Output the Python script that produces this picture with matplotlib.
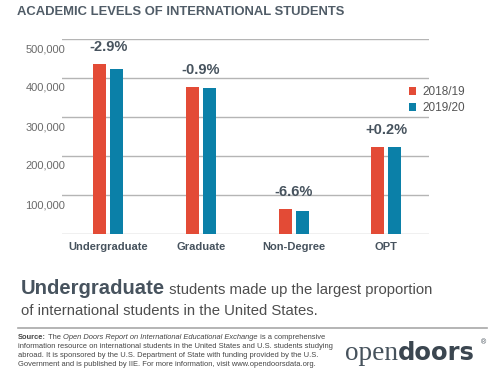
import numpy as np
import matplotlib.pyplot as plt
import matplotlib.transforms as mtransforms

plt.rcParams['font.family'] = ['Liberation Sans', 'DejaVu Sans']

# datos
categories = ['Undergraduate', 'Graduate', 'Non-Degree', 'OPT']
y2018 = [437000, 377000, 65000, 224000]
y2019 = [424000, 374000, 60000, 224000]
changes = ['-2.9%', '-0.9%', '-6.6%', '+0.2%']
years = ['2018/19', '2019/20']
yticks = [0, 100000, 200000, 300000, 400000, 500000]
ytick_labels = ['', '100,000', '200,000', '300,000', '400,000', '500,000']

red = '#e34b36'
blue = '#0b80a8'
dark = '#47535e'

W, H = 499, 382
fig = plt.figure(figsize=(W / 100, H / 100), dpi=100)
fig.patch.set_facecolor('white')

def fx(px):
    return px / W

def fy(py):
    return 1 - py / H

ax = fig.add_axes([fx(62), fy(234), fx(429) - fx(62), fy(39) - fy(234)])
x = np.arange(len(categories))
w = 0.14
off = 0.092
ax.bar(x - off, y2018, w, color=red, label=years[0], zorder=3)
ax.bar(x + off, y2019, w, color=blue, label=years[1], zorder=3)

ax.set_xlim(-0.5, 3.46)
ax.set_ylim(0, 500000)
for s in ax.spines.values():
    s.set_visible(False)
ax.set_yticks(yticks, labels=ytick_labels)
ax.grid(axis='y', color='#b5b5b5', linewidth=1, zorder=0)
ax.tick_params(axis='y', length=0, pad=-2.2, labelsize=8, labelcolor='#6a6a6a')
shift = mtransforms.ScaledTranslation(0, -0.09, fig.dpi_scale_trans)
for lbl in ax.get_yticklabels():
    lbl.set_transform(lbl.get_transform() + shift)
ax.set_xticks(x, labels=categories)
ax.tick_params(axis='x', length=0, pad=6, labelsize=8)
for lbl in ax.get_xticklabels():
    lbl.set_fontweight('bold')
    lbl.set_color(dark)

# etiquetas de cambio porcentual
for i in range(len(categories)):
    top = max(y2018[i], y2019[i])
    ax.annotate(changes[i], (x[i], top), xytext=(0, 7), textcoords='offset points',
                ha='center', va='bottom', fontsize=10.5, fontweight='bold', color=dark)

leg = ax.legend(loc='upper left', bbox_to_anchor=(fx(409), fy(86)),
                bbox_transform=fig.transFigure, frameon=False, fontsize=8.5,
                handlelength=0.6, handleheight=0.6, handletextpad=0.5,
                labelspacing=0.35, borderaxespad=0, borderpad=0)
for t in leg.get_texts():
    t.set_color('#555555')

# titulo
fig.text(fx(17), fy(12), 'ACADEMIC LEVELS OF INTERNATIONAL STUDENTS', fontsize=9.4,
         fontweight='bold', color='#505c67', va='center', ha='left')

fig.canvas.draw()
renderer = fig.canvas.get_renderer()

def runs(x0, y0, pieces):
    xc = x0
    for txt, kw in pieces:
        t = fig.text(xc, y0, txt, va='baseline', ha='left', **kw)
        bb = t.get_window_extent(renderer)
        xc = bb.x1 / W

# frase destacada
runs(fx(21), fy(294), [('Undergraduate', dict(fontsize=14.6, fontweight='bold', color=dark)),
                      (' students made up the largest proportion', dict(fontsize=10.7, color='#4e4e4e'))])
fig.text(fx(21), fy(315), 'of international students in the United States.', fontsize=10.7,
         color='#4e4e4e', va='baseline', ha='left')

# linea separadora
fig.add_artist(plt.Line2D([fx(18), fx(487)], [fy(328), fy(328)], color='#a8a8a8', linewidth=1.2))

# fuente
src = dict(fontsize=5.4, color='#444444')
runs(fx(18), fy(339), [('Source:', dict(src, fontweight='bold')), (' The ', src),
                      ('Open Doors Report on International Educational Exchange', dict(src, style='italic')),
                      (' is a comprehensive', src)])
fig.text(fx(18), fy(348), 'information resource on international students in the United States and U.S. students studying',
         va='baseline', **src)
fig.text(fx(18), fy(357), 'abroad. It is sponsored by the U.S. Department of State with funding provided by the U.S.',
         va='baseline', **src)
fig.text(fx(18), fy(366), 'Government and is published by IIE. For more information, visit www.opendoorsdata.org.',
         va='baseline', **src)

# logo
runs(fx(345), fy(360), [('open', dict(fontsize=19.6, family='Liberation Serif', color='#46525c')),
                       ('doors', dict(fontsize=17.5, fontweight='bold', family='DejaVu Sans', color='#3b4650'))])
fig.text(fx(481), fy(344), '®', fontsize=5, color='#3b4650', va='baseline')

fig.savefig('out.png', dpi=100, facecolor='white')
